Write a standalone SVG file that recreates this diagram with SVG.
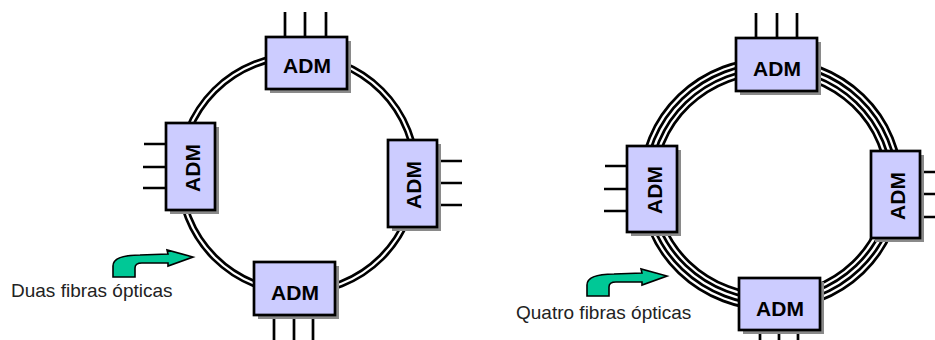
<svg xmlns="http://www.w3.org/2000/svg" width="935" height="340" viewBox="0 0 935 340">
<style>
.sh{fill:#8a8a8a}
.box{fill:#ccccff;stroke:#000;stroke-width:2.7}
.lbl{font-family:"Liberation Sans",Arial,sans-serif;font-weight:bold;font-size:21px;fill:#000;text-anchor:middle}
.lead{stroke:#000;stroke-width:2.7;fill:none}
.cap{font-family:"Liberation Sans",Arial,sans-serif;font-size:19px;fill:#222}
.arr{fill:#00c896;stroke:#000;stroke-width:1.6;stroke-linejoin:miter}
</style>
<defs>
<path id="arrow" d="M113,277 L113,266 C113,258 124,255 140,255 L168,254 L167,250 L193,257 L168,266 L168,263 L142,263 C137,263 135,265 135,268 L135,277 Z"/>
</defs>
<rect width="935" height="340" fill="#fff"/>

<g id="connectors">
  <!-- two-fiber ring -->
  <circle cx="298" cy="174" r="118" fill="none" stroke="#000" stroke-width="7.5"/>
  <circle cx="298" cy="174" r="118" fill="none" stroke="#fff" stroke-width="2.2"/>
  <!-- four-fiber ring -->
  <ellipse cx="771" cy="184" rx="123" ry="118" fill="none" stroke="#000" stroke-width="18"/>
  <ellipse cx="771" cy="184" rx="123" ry="118" fill="none" stroke="#fff" stroke-width="12.5"/>
  <ellipse cx="771" cy="184" rx="123" ry="118" fill="none" stroke="#000" stroke-width="8"/>
  <ellipse cx="771" cy="184" rx="123" ry="118" fill="none" stroke="#fff" stroke-width="2.4"/>
  <!-- tributary leads -->
  <path class="lead" d="M285,12V37M305,12V37M326,12V37"/>
  <path class="lead" d="M144,144H166M143,167H166M143,188H166"/>
  <path class="lead" d="M437,161H462M437,183H462M437,205H462"/>
  <path class="lead" d="M274,315V340M294,315V340M313,315V340"/>
  <path class="lead" d="M756,13V38M777,13V38M797,13V38"/>
  <path class="lead" d="M605,166H627M604,189H627M604,211H627"/>
  <path class="lead" d="M920,172H935M920,194H935M920,217H935"/>
  <path class="lead" d="M760,330V340M779,330V340M798,330V340"/>
</g>

<g id="adm-l-top">
  <rect class="sh" x="270" y="41" width="81" height="52"/>
  <rect class="box" x="266" y="37" width="81" height="52"/>
  <text class="lbl" x="307" y="73">ADM</text>
</g>
<g id="adm-l-left">
  <rect class="sh" x="170" y="127" width="49" height="87"/>
  <rect class="box" x="166" y="123" width="49" height="87"/>
  <text class="lbl" transform="translate(200,168) rotate(-90)">ADM</text>
</g>
<g id="adm-l-right">
  <rect class="sh" x="392" y="144" width="49" height="87"/>
  <rect class="box" x="388" y="140" width="49" height="87"/>
  <text class="lbl" transform="translate(421,185) rotate(-90)">ADM</text>
</g>
<g id="adm-l-bottom">
  <rect class="sh" x="258" y="266" width="81" height="53"/>
  <rect class="box" x="254" y="262" width="81" height="53"/>
  <text class="lbl" x="295" y="300">ADM</text>
</g>

<g id="adm-r-top">
  <rect class="sh" x="740" y="42" width="81" height="53"/>
  <rect class="box" x="736" y="38" width="81" height="53"/>
  <text class="lbl" x="777" y="76">ADM</text>
</g>
<g id="adm-r-left">
  <rect class="sh" x="631" y="150" width="50" height="86"/>
  <rect class="box" x="627" y="146" width="50" height="86"/>
  <text class="lbl" transform="translate(662,190) rotate(-90)">ADM</text>
</g>
<g id="adm-r-right">
  <rect class="sh" x="875" y="155" width="49" height="87"/>
  <rect class="box" x="871" y="151" width="49" height="87"/>
  <text class="lbl" transform="translate(905,196) rotate(-90)">ADM</text>
</g>
<g id="adm-r-bottom">
  <rect class="sh" x="743" y="282" width="81" height="52"/>
  <rect class="box" x="739" y="278" width="81" height="52"/>
  <text class="lbl" x="780" y="316">ADM</text>
</g>

<g id="label-two">
  <use href="#arrow" class="arr"/>
  <text class="cap" x="11" y="297">Duas fibras ópticas</text>
</g>
<g id="label-four">
  <use href="#arrow" class="arr" transform="translate(474,19)"/>
  <text class="cap" x="516" y="319">Quatro fibras ópticas</text>
</g>
</svg>
